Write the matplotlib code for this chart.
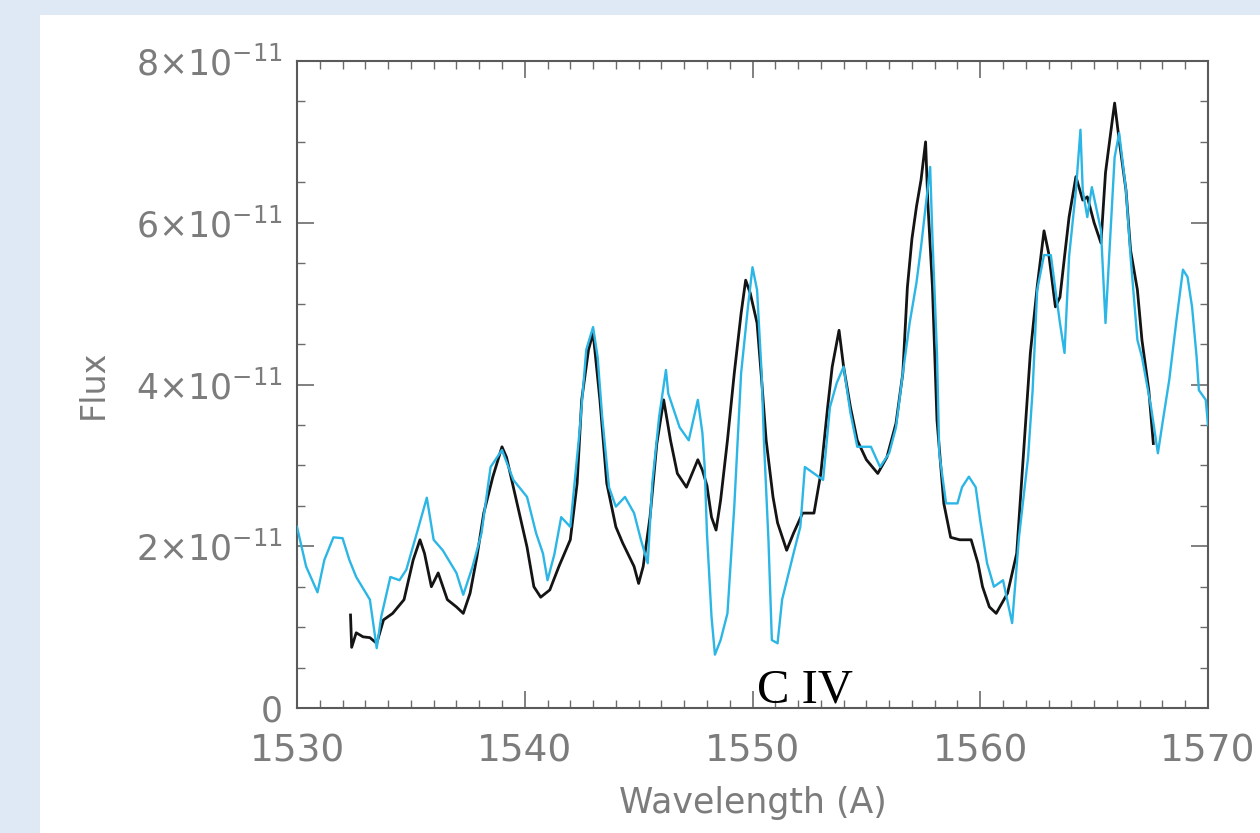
import matplotlib
matplotlib.use("Agg")
import matplotlib.pyplot as plt
from matplotlib.patches import Rectangle
from matplotlib.ticker import MultipleLocator, FuncFormatter

# ---- data (flux in units of 1e-11) ----
cyan_wl = [1530.0, 1530.4, 1530.9, 1531.2, 1531.6, 1532.0, 1532.3, 1532.6, 1533.2, 1533.5,
           1533.7, 1534.1, 1534.5, 1534.8, 1535.3, 1535.7, 1536.0, 1536.4, 1537.0, 1537.3,
           1537.7, 1538.1, 1538.5, 1539.0, 1539.5, 1540.1, 1540.5, 1540.8, 1541.0, 1541.3,
           1541.6, 1542.0, 1542.4, 1542.7, 1543.0, 1543.2, 1543.4, 1543.7, 1544.0, 1544.4,
           1544.8, 1545.1, 1545.4, 1545.6, 1545.9, 1546.2, 1546.3, 1546.8, 1547.2, 1547.6,
           1547.8, 1547.9, 1548.0, 1548.2, 1548.35, 1548.6, 1548.9, 1549.2, 1549.5, 1549.8,
           1550.0, 1550.2, 1550.4, 1550.5, 1550.7, 1550.85, 1551.1, 1551.3, 1551.8, 1552.1,
           1552.3, 1552.7, 1553.1, 1553.4, 1553.7, 1554.0, 1554.3, 1554.6, 1555.2, 1555.6,
           1556.0, 1556.3, 1556.6, 1556.9, 1557.2, 1557.4, 1557.7, 1557.8, 1557.9, 1558.1,
           1558.2, 1558.5, 1559.0, 1559.2, 1559.5, 1559.8, 1560.0, 1560.3, 1560.6, 1561.0,
           1561.4, 1561.7, 1562.1, 1562.3, 1562.5, 1562.8, 1563.1, 1563.3, 1563.5, 1563.7,
           1563.9, 1564.2, 1564.4, 1564.5, 1564.7, 1564.9, 1565.3, 1565.5, 1565.7, 1565.9,
           1566.1, 1566.4, 1566.6, 1566.9, 1567.1, 1567.5, 1567.8, 1568.0, 1568.3, 1568.6,
           1568.9, 1569.1, 1569.3, 1569.5, 1569.6, 1569.9, 1570.0]
cyan_flux = [2.24, 1.75, 1.43, 1.83, 2.11, 2.10, 1.83, 1.62, 1.34, 0.74,
             1.13, 1.62, 1.58, 1.71, 2.20, 2.60, 2.08, 1.95, 1.67, 1.40,
             1.74, 2.16, 2.98, 3.19, 2.82, 2.61, 2.16, 1.91, 1.58, 1.90,
             2.36, 2.24, 3.40, 4.43, 4.71, 4.34, 3.60, 2.73, 2.49, 2.61,
             2.41, 2.08, 1.79, 2.78, 3.60, 4.18, 3.89, 3.47, 3.31, 3.81,
             3.40, 2.98, 2.16, 1.13, 0.66, 0.84, 1.17, 2.49, 4.14, 4.96,
             5.45, 5.17, 4.14, 3.31, 2.08, 0.84, 0.80, 1.34, 1.91, 2.24,
             2.98, 2.90, 2.82, 3.72, 4.02, 4.22, 3.65, 3.23, 3.23, 2.98,
             3.15, 3.47, 4.14, 4.76, 5.26, 5.70, 6.44, 6.69, 5.82, 4.39,
             3.15, 2.53, 2.53, 2.73, 2.86, 2.73, 2.32, 1.79, 1.50, 1.58,
             1.05, 2.11, 3.10, 3.93, 5.17, 5.60, 5.60, 5.17, 4.76, 4.39,
             5.58, 6.40, 7.15, 6.40, 6.07, 6.44, 5.91, 4.76, 5.79, 6.81,
             7.11, 6.40, 5.58, 4.55, 4.34, 3.72, 3.15, 3.52, 4.06, 4.76,
             5.42, 5.33, 4.96, 4.34, 3.93, 3.81, 3.50]

black_wl = [1532.35, 1532.4, 1532.6, 1532.9, 1533.2, 1533.5, 1533.8, 1534.2, 1534.7, 1535.1,
            1535.4, 1535.6, 1535.9, 1536.2, 1536.6, 1537.0, 1537.3, 1537.6, 1537.9, 1538.2,
            1538.6, 1539.0, 1539.2, 1539.5, 1539.8, 1540.1, 1540.4, 1540.7, 1541.1, 1541.5,
            1542.0, 1542.3, 1542.5, 1542.8, 1543.0, 1543.3, 1543.6, 1544.0, 1544.3, 1544.8,
            1545.0, 1545.2, 1545.5, 1545.8, 1546.1, 1546.4, 1546.7, 1547.1, 1547.6, 1547.8,
            1548.0, 1548.2, 1548.4, 1548.6, 1548.9, 1549.2, 1549.5, 1549.7, 1549.9, 1550.2,
            1550.4, 1550.6, 1550.9, 1551.1, 1551.5, 1551.8, 1552.2, 1552.7, 1553.0, 1553.3,
            1553.5, 1553.8, 1554.0, 1554.3, 1554.6, 1555.0, 1555.5, 1555.9, 1556.3, 1556.6,
            1556.8, 1557.0, 1557.2, 1557.4, 1557.6, 1557.7, 1557.9, 1558.1, 1558.4, 1558.7,
            1559.1, 1559.6, 1559.9, 1560.1, 1560.4, 1560.7, 1561.2, 1561.6, 1561.9, 1562.2,
            1562.5, 1562.8, 1563.0, 1563.3, 1563.5, 1563.7, 1563.9, 1564.2, 1564.5, 1564.7,
            1565.0, 1565.3, 1565.5, 1565.8, 1565.9, 1566.1, 1566.4, 1566.6, 1566.9, 1567.1,
            1567.4, 1567.6]
black_flux = [1.15, 0.75, 0.93, 0.88, 0.87, 0.80, 1.09, 1.17, 1.34, 1.83,
              2.08, 1.91, 1.50, 1.67, 1.34, 1.25, 1.17, 1.42, 1.87, 2.41,
              2.86, 3.23, 3.10, 2.73, 2.36, 1.99, 1.50, 1.37, 1.46, 1.75,
              2.08, 2.78, 3.81, 4.43, 4.64, 3.81, 2.78, 2.24, 2.04, 1.75,
              1.54, 1.75, 2.36, 3.27, 3.81, 3.31, 2.90, 2.73, 3.07, 2.94,
              2.75, 2.36, 2.20, 2.57, 3.31, 4.14, 4.88, 5.29, 5.13, 4.76,
              4.06, 3.31, 2.61, 2.29, 1.95, 2.16, 2.41, 2.41, 2.90, 3.72,
              4.22, 4.67, 4.22, 3.72, 3.31, 3.07, 2.90, 3.10, 3.52, 4.14,
              5.20, 5.80, 6.20, 6.53, 7.00, 6.24, 5.21, 3.56, 2.53, 2.11,
              2.08, 2.08, 1.79, 1.50, 1.25, 1.17, 1.42, 1.91, 3.15, 4.39,
              5.21, 5.90, 5.63, 4.96, 5.08, 5.58, 6.07, 6.57, 6.28, 6.32,
              6.00, 5.75, 6.62, 7.27, 7.48, 7.02, 6.40, 5.66, 5.17, 4.55,
              3.93, 3.27]

x_ticks = [1530, 1540, 1550, 1560, 1570]
y_ticks = [0, 2e-11, 4e-11, 6e-11, 8e-11]
annotation = "C IV"
SCALE = 1e-11

# ---- figure ----
fig = plt.figure(figsize=(12.6, 8.33), dpi=100)
fig.patch.set_facecolor("#dfe9f5")
fig.patches.append(Rectangle((40 / 1260, 0), 1.0, (833 - 15) / 833,
                             transform=fig.transFigure, facecolor="white",
                             edgecolor="none", zorder=-10))

ax = fig.add_axes([297 / 1260, 1 - 708 / 833, (1208 - 297) / 1260, (708 - 61) / 833])
ax.set_zorder(5)
ax.set_facecolor("white")

ax.plot(black_wl, [v * SCALE for v in black_flux], color="#141414", lw=2.0, zorder=2)
ax.plot(cyan_wl, [v * SCALE for v in cyan_flux], color="#2cb6e6", lw=1.7, zorder=3)

ax.set_xlim(1530, 1570)
ax.set_ylim(0, 8e-11)
ax.set_xticks(x_ticks)
ax.set_yticks(y_ticks)
ax.xaxis.set_minor_locator(MultipleLocator(1))
ax.yaxis.set_minor_locator(MultipleLocator(0.5e-11))


def yfmt(v, pos):
    m = round(v / SCALE)
    if m == 0:
        return "0"
    return r"$%d{\times}10^{-11}$" % m


ax.yaxis.set_major_formatter(FuncFormatter(yfmt))

txtc = "#7c7c7c"
ax.tick_params(which="both", direction="in", top=True, right=True, colors="#6b6b6b",
               labelcolor=txtc)
ax.tick_params(which="major", length=12, width=1.2, labelsize=25)
ax.tick_params(which="minor", length=6, width=1.0)
ax.tick_params(axis="x", which="major", pad=18, labelsize=27)
ax.tick_params(axis="y", which="major", pad=10)
for s in ax.spines.values():
    s.set_color("#5a5a5a")
    s.set_linewidth(1.5)

ax.set_xlabel("Wavelength (A)", fontsize=25, color=txtc, labelpad=12)
ax.set_ylabel("Flux", fontsize=24, color=txtc, labelpad=19)

ax.text(1552.3, 0.07e-11, annotation, ha="center", va="baseline",
        fontsize=35, family="Liberation Serif", color="black", zorder=4)

fig.savefig("out.png", dpi=100, facecolor=fig.get_facecolor())
